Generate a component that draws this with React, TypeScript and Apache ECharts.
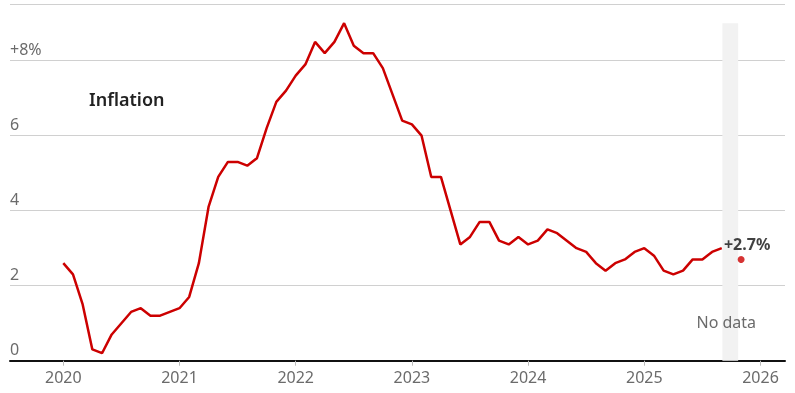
import React, { useEffect, useRef } from "react";
import * as echarts from "echarts";

// Monthly CPI inflation (%), starting January 2020, ending September 2025
const startYear = 2020;
const inflation = [
  2.6, 2.3, 1.5, 0.3, 0.2, 0.7, 1.0, 1.3, 1.4, 1.2, 1.2, 1.3,
  1.4, 1.7, 2.6, 4.1, 4.9, 5.3, 5.3, 5.2, 5.4, 6.2, 6.9, 7.2,
  7.6, 7.9, 8.5, 8.2, 8.5, 9.0, 8.4, 8.2, 8.2, 7.8, 7.1, 6.4,
  6.3, 6.0, 4.9, 4.9, 4.0, 3.1, 3.3, 3.7, 3.7, 3.2, 3.1, 3.3,
  3.1, 3.2, 3.5, 3.4, 3.2, 3.0, 2.9, 2.6, 2.4, 2.6, 2.7, 2.9,
  3.0, 2.8, 2.4, 2.3, 2.4, 2.7, 2.7, 2.9, 3.0,
];
// Latest reading (November 2025), after the gap
const latestYear = 2025;
const latestMonthIndex = 10;
const latestValue = 2.7;
const latestLabel = "+2.7%";
// Gap with no data (fractional years)
const noDataStart = 2025.672;
const noDataEnd = 2025.808;
const noDataTop = 9.0;
const noDataLabel = "No data";
const yearTicks = [2020, 2021, 2022, 2023, 2024, 2025, 2026];
const yTicks = [0, 2, 4, 6, 8];
const title = "Inflation";

const RED = "#cc0000";
const FONT = "Noto Sans";

export default function App() {
  const ref = useRef<HTMLDivElement>(null);
  useEffect(() => {
    if (!ref.current) return;
    const chart = echarts.init(ref.current, null, { renderer: "svg" });
    const lineData = inflation.map((v, i) => [startYear + i / 12, v]);
    chart.setOption({
      animation: false,
      textStyle: { fontFamily: FONT },
      title: {
        text: title,
        left: 89,
        top: 90,
        padding: 0,
        textStyle: { fontFamily: FONT, fontSize: 18, fontWeight: 600, color: "#222" },
      },
      grid: { left: 10, right: 10, top: 4.4, bottom: 32.3 },
      xAxis: {
        type: "value",
        min: 2019.5413,
        max: 2026.211,
        axisLine: { show: true, onZero: false, lineStyle: { color: "#111", width: 2 } },
        axisTick: {
          show: true,
          customValues: yearTicks,
          length: 5,
          lineStyle: { color: "#bbb", width: 1 },
        },
        axisLabel: {
          customValues: yearTicks,
          formatter: (v: number) => String(Math.round(v)),
          fontSize: 16,
          color: "#6b6b6b",
          fontFamily: FONT,
          margin: 8,
        },
        splitLine: { show: false },
      },
      yAxis: {
        type: "value",
        min: 0,
        max: 9.5,
        interval: 2,
        axisLine: { show: false },
        axisTick: { show: false },
        splitLine: { show: true, lineStyle: { color: "#d0d0d0", width: 1 } },
        axisLabel: {
          inside: true,
          margin: 0,
          align: "left",
          verticalAlign: "bottom",
          padding: [0, 0, 4, 0],
          fontSize: 16,
          color: "#6b6b6b",
          fontFamily: FONT,
          formatter: (v: number) =>
            yTicks.includes(v) ? (v === 8 ? "+8%" : String(v)) : "",
        },
      },
      series: [
        {
          type: "line",
          data: lineData,
          symbol: "none",
          lineStyle: { color: RED, width: 2.5 },
          z: 3,
          markArea: {
            silent: true,
            itemStyle: { color: "#f2f2f2" },
            label: {
              show: true,
              position: "insideBottom",
              offset: [-4, -26],
              fontSize: 16,
              color: "#6b6b6b",
              fontFamily: FONT,
            },
            data: [
              [
                { name: noDataLabel, coord: [noDataStart, 0] },
                { coord: [noDataEnd, noDataTop] },
              ],
            ],
          },
        },
        {
          type: "scatter",
          data: [[latestYear + latestMonthIndex / 12, latestValue]],
          symbolSize: 7,
          itemStyle: { color: RED },
          z: 4,
          label: {
            show: true,
            position: "top",
            offset: [6, 1],
            formatter: () => latestLabel,
            fontSize: 16,
            fontWeight: 700,
            color: "#111",
            fontFamily: FONT,
          },
        },
      ],
    });
    return () => chart.dispose();
  }, []);
  return (
    <div
      ref={ref}
      style={{ position: "fixed", left: 0, top: 0, width: 795, height: 393 }}
    />
  );
}
